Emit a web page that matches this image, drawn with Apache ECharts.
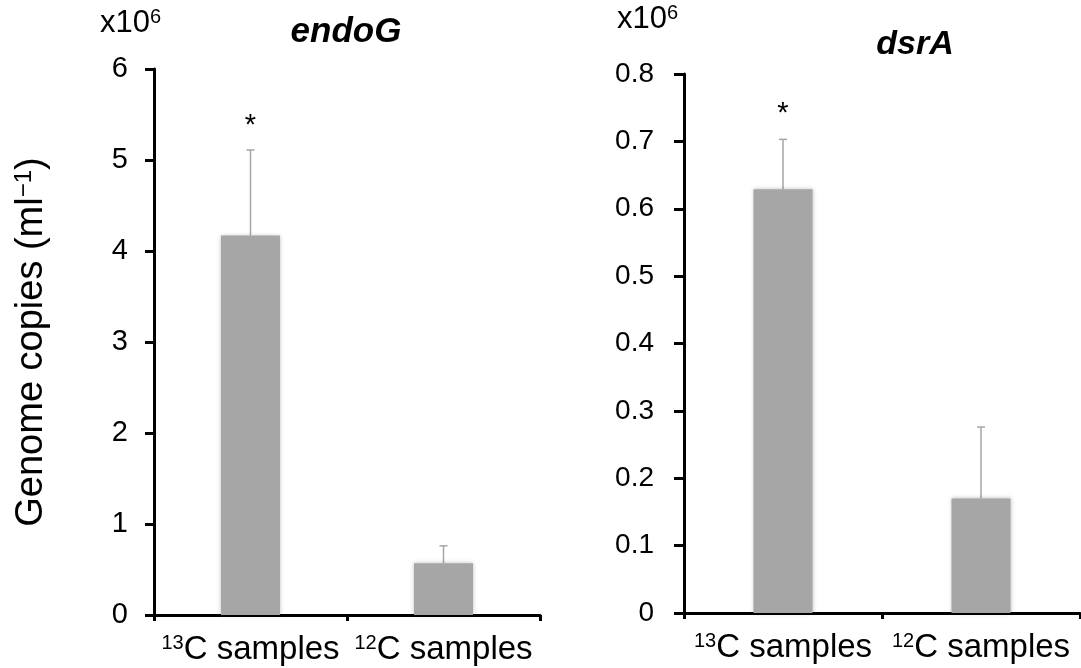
<!DOCTYPE html>
<html>
<head>
<meta charset="utf-8">
<script src="https://cdn.jsdelivr.net/npm/echarts@6/dist/echarts.min.js"></script>
<style>
html,body{margin:0;padding:0;background:#fff;}
#chart{width:1081px;height:668px;}
</style>
</head>
<body>
<div id="chart"></div>
<script>
// ---- data ----
var categories = ['13|C samples', '12|C samples'];
var endoGValues = [4.17, 0.57];
var endoGErrors = [0.94, 0.19];
var dsrAValues = [0.629, 0.170];
var dsrAErrors = [0.074, 0.106];
var significance = ['*', ''];
var endoGTicks = [0, 1, 2, 3, 4, 5, 6];
var dsrATicks = [0, 0.1, 0.2, 0.3, 0.4, 0.5, 0.6, 0.7, 0.8];

var FONT = '"Liberation Sans", Arial, sans-serif';
var BAR = '#a6a6a6';

var chart = echarts.init(document.getElementById('chart'), null, {renderer: 'canvas'});

function catLabel(v) {
  var p = v.split('|');
  return '{sup|' + p[0] + '}{n|' + p[1] + '}';
}
var catRich = {
  sup: {fontSize: 20, fontFamily: FONT, color: '#000', verticalAlign: 'top', lineHeight: 34},
  n: {fontSize: 33, fontFamily: FONT, color: '#000', lineHeight: 34}
};

function errRender(values, errors, starOffset) {
  return function (params, api) {
    var i = params.dataIndex;
    var base = api.coord([i, values[i]]);
    var top = api.coord([i, values[i] + errors[i]]);
    var children = [
      {type: 'line', shape: {x1: base[0], y1: base[1], x2: top[0], y2: top[1]},
       style: {stroke: BAR, lineWidth: 1.5}},
      {type: 'line', shape: {x1: top[0] - 4, y1: top[1], x2: top[0] + 4, y2: top[1]},
       style: {stroke: BAR, lineWidth: 1.5}}
    ];
    if (significance[i]) {
      children.push({type: 'text', style: {text: significance[i], x: top[0], y: top[1] - starOffset,
        font: '29px ' + FONT, fill: '#000', align: 'center', verticalAlign: 'middle'}});
    }
    return {type: 'group', children: children};
  };
}

var axisLineStyle = {color: '#000', width: 3};
var supRich = function (fs, lh) {
  return {a: {fontSize: fs, fontFamily: FONT, color: '#000', verticalAlign: 'bottom', lineHeight: lh},
          b: {fontSize: Math.round(fs * 0.65), fontFamily: FONT, color: '#000', verticalAlign: 'top', lineHeight: lh}};
};

var option = {
  animation: false,
  backgroundColor: '#fff',
  grid: [
    {left: 154, top: 69, width: 386, height: 546},
    {left: 684, top: 74, width: 396, height: 539}
  ],
  xAxis: [0, 1].map(function (g) {
    return {
      type: 'category', gridIndex: g, data: categories,
      axisLine: {lineStyle: axisLineStyle},
      axisTick: {show: true, length: 6, lineStyle: {width: 3, color: '#000'}},
      axisLabel: {margin: 18, formatter: catLabel, rich: catRich}
    };
  }),
  yAxis: [
    {
      type: 'value', gridIndex: 0, min: endoGTicks[0], max: endoGTicks[endoGTicks.length - 1], interval: 1,
      axisLine: {show: true, lineStyle: axisLineStyle},
      axisTick: {show: true, length: 9, lineStyle: {width: 3, color: '#000'}},
      splitLine: {show: false},
      axisLabel: {margin: 26, fontSize: 29, fontFamily: FONT, color: '#000'},
      name: 'Genome copies (ml{sup|−1})',
      nameLocation: 'middle', nameRotate: 90, nameGap: 102,
      nameTextStyle: {fontSize: 38, fontFamily: FONT, color: '#000',
        rich: {sup: {fontSize: 24, fontFamily: FONT, color: '#000', verticalAlign: 'top', lineHeight: 40}}}
    },
    {
      type: 'value', gridIndex: 1, min: dsrATicks[0], max: dsrATicks[dsrATicks.length - 1], interval: 0.1,
      axisLine: {show: true, lineStyle: axisLineStyle},
      axisTick: {show: true, length: 10, lineStyle: {width: 3, color: '#000'}},
      splitLine: {show: false},
      axisLabel: {margin: 30, fontSize: 28, fontFamily: FONT, color: '#000',
        formatter: function (v) { return v === 0 ? '0' : (+v).toFixed(1); }}
    }
  ],
  graphic: [
    {type: 'text', left: 100, top: 7, style: {text: '{a|x10}{b|6}', rich: supRich(31, 32)}},
    {type: 'text', left: 617, top: 3, style: {text: '{a|x10}{b|6}', rich: supRich(31, 32)}},
    {type: 'text', x: 346, y: 32, style: {text: 'endoG', font: 'italic bold 35px ' + FONT, fill: '#000',
      align: 'center', verticalAlign: 'middle'}},
    {type: 'text', x: 915, y: 45, style: {text: 'dsrA', font: 'italic bold 34px ' + FONT, fill: '#000',
      align: 'center', verticalAlign: 'middle'}}
  ],
  series: [
    {type: 'bar', xAxisIndex: 0, yAxisIndex: 0, data: endoGValues, barWidth: 59,
     itemStyle: {color: BAR, shadowBlur: 4, shadowColor: 'rgba(0,0,0,0.25)'}},
    {type: 'custom', xAxisIndex: 0, yAxisIndex: 0, data: endoGValues, z: 1,
     renderItem: errRender(endoGValues, endoGErrors, 24)},
    {type: 'bar', xAxisIndex: 1, yAxisIndex: 1, data: dsrAValues, barWidth: 59,
     itemStyle: {color: BAR, shadowBlur: 4, shadowColor: 'rgba(0,0,0,0.25)'}},
    {type: 'custom', xAxisIndex: 1, yAxisIndex: 1, data: dsrAValues, z: 1,
     renderItem: errRender(dsrAValues, dsrAErrors, 25)}
  ]
};
chart.setOption(option);
</script>
</body>
</html>
